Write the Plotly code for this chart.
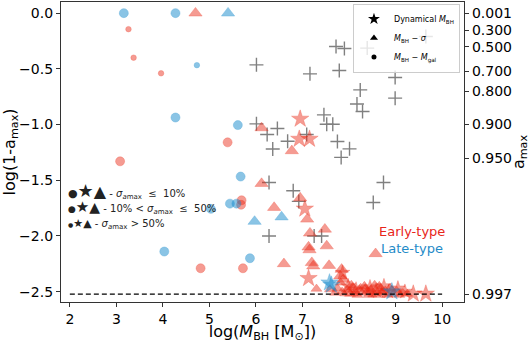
import numpy as np
import plotly.graph_objects as go

# ---------------- data ----------------
# size class: 0 = sigma<=10% (large), 1 = 10-50% (medium), 2 = >50% (small)
circ_early_x = [3.26, 3.37, 3.96, 5.39, 3.08, 5.69, 5.68, 4.81, 5.72]
circ_early_y = [-0.144, -0.40, -0.54, -1.16, -1.33, -1.68, -1.72, -2.29, -2.29]
circ_early_s = [2, 2, 2, 0, 0, 0, 0, 0, 0]

circ_late_x = [3.16, 4.27, 4.73, 4.27, 5.61, 5.67, 5.03, 5.44, 5.58, 4.03, 5.87]
circ_late_y = [0.0, 0.0, -0.467, -0.937, -1.005, -1.467, -1.757, -1.71, -1.71, -2.14, -2.20]
circ_late_s = [0, 0, 2, 0, 0, 0, 0, 0, 0, 0, 0]

tri_early_x = [4.70, 6.12, 6.77, 6.12, 6.95, 6.39, 7.10, 7.48, 7.16, 7.52, 7.13, 7.15,
               6.60, 7.20, 7.23, 7.57, 8.57, 7.84, 7.81, 7.88, 7.30, 7.59,
               7.75, 7.85, 7.95, 8.02, 8.08, 8.12, 8.18, 8.22, 8.28, 8.33, 8.38, 8.42,
               8.47, 8.52, 8.55, 8.60, 8.63, 8.68, 8.72, 8.78, 8.82, 8.88, 8.95, 9.02,
               9.08, 9.15, 9.25, 8.05, 8.35, 8.65, 7.90, 8.00, 8.25, 8.50, 8.70, 8.92,
               7.70, 7.82, 8.10, 8.40]
tri_early_y = [0.0, -1.03, -1.236, -1.53, -1.66, -1.745, -1.85, -1.94, -1.975, -2.09, -2.10, -2.125,
               -2.25, -2.24, -2.27, -2.266, -2.16, -2.30, -2.36, -2.39, -2.475, -2.48,
               -2.47, -2.50, -2.48, -2.52, -2.46, -2.50, -2.53, -2.48, -2.51, -2.45, -2.50, -2.53,
               -2.48, -2.51, -2.44, -2.50, -2.53, -2.47, -2.51, -2.49, -2.53, -2.47, -2.52, -2.49,
               -2.53, -2.51, -2.52, -2.44, -2.47, -2.45, -2.52, -2.49, -2.46, -2.53, -2.50, -2.48,
               -2.51, -2.42, -2.52, -2.49]
tri_early_s = [0, 0, 0, 0, 0, 0, 0, 0, 0, 0, 0, 0,
               0, 0, 0, 0, 0, 0, 0, 0, 1, 1,
               1, 1, 1, 1, 1, 1, 1, 1, 1, 1, 1, 1,
               1, 1, 1, 1, 1, 1, 1, 1, 1, 1, 1, 1,
               1, 1, 1, 1, 1, 1, 2, 2, 2, 2, 2, 2,
               1, 1, 2, 2]

tri_late_x = [5.40, 5.97, 6.55]
tri_late_y = [0.0, -1.87, -1.83]
tri_late_s = [0, 0, 0]

star_early_x = [6.95, 6.93, 7.15, 7.05, 7.13, 7.86, 9.38, 9.65,
                7.98, 8.15, 8.45, 8.58, 8.75, 8.85, 9.05, 9.20]
star_early_y = [-0.95, -1.13, -1.13, -1.757, -2.38, -2.33, -2.52, -2.52,
                -2.45, -2.48, -2.46, -2.49, -2.45, -2.50, -2.47, -2.50]
star_early_s = [0, 0, 0, 0, 0, 1, 0, 0,
                1, 1, 1, 1, 1, 1, 1, 1]

star_late_x = [7.58, 7.62, 8.92]
star_late_y = [-2.42, -2.44, -2.50]
star_late_s = [0, 0, 0]

plus_x = [6.01, 6.01, 6.24, 6.46, 6.68, 6.36, 7.09, 7.72, 7.90, 8.39, 9.65, 7.16, 7.79,
          8.99, 8.24, 8.99, 8.17, 8.29, 7.46, 7.52, 7.65, 7.75, 8.01, 7.83, 6.28, 6.80,
          6.92, 8.74, 8.52, 6.28, 7.25, 7.41]
plus_y = [-0.464, -0.994, -1.09, -1.035, -1.15, -1.22, -1.09, -0.30, -0.318, -0.314, -0.21,
          -0.545, -0.515, -0.578, -0.689, -0.763, -0.816, -0.883, -0.913, -0.997, -0.997,
          -1.152, -1.218, -1.295, -1.52, -1.595, -1.69, -1.52, -1.70, -2.0, -2.0, -2.0]

amax_ticks = [0.001, 0.300, 0.500, 0.700, 0.800, 0.900, 0.950, 0.997]
amax_labels = ["0.001", "0.300", "0.500", "0.700", "0.800", "0.900", "0.950", "0.997"]
x_ticks = [2, 3, 4, 5, 6, 7, 8, 9, 10]
y_ticks = [0.0, -0.5, -1.0, -1.5, -2.0, -2.5]
amax_limit = 0.997

RED = "rgba(235,40,20,0.66)"
BLUE = "rgba(25,140,205,0.72)"
GRAY = "rgb(128,128,128)"
SIZES = {"circle": [9, 7, 5.5], "triangle-up": [11.5, 9.5, 8], "star": [13, 11, 9]}

fig = go.Figure()
fig.add_trace(go.Scatter(x=plus_x, y=plus_y, mode="markers", showlegend=False,
                         marker=dict(symbol="cross-thin", size=10,
                                     line=dict(color=GRAY, width=1.4), color=GRAY)))

def add(xs, ys, ss, sym, col):
    fig.add_trace(go.Scatter(x=xs, y=ys, mode="markers", showlegend=False,
                             marker=dict(symbol=sym, size=[SIZES[sym][s] for s in ss],
                                         color=col, line=dict(color=col, width=0.6))))

add(circ_early_x, circ_early_y, circ_early_s, "circle", RED)
add(circ_late_x, circ_late_y, circ_late_s, "circle", BLUE)
add(tri_early_x, tri_early_y, tri_early_s, "triangle-up", RED)
add(tri_late_x, tri_late_y, tri_late_s, "triangle-up", BLUE)
add(star_early_x, star_early_y, star_early_s, "star", RED)
add(star_late_x, star_late_y, star_late_s, "star", BLUE)

# legend entries (marker type)
for name, sym, sz in [("Dynamical <i>M</i><sub>BH</sub>", "star", 9),
                      ("<i>M</i><sub>BH</sub> − <i>σ</i>", "triangle-up", 7),
                      ("<i>M</i><sub>BH</sub> − <i>M</i><sub>gal</sub>", "circle", 5)]:
    fig.add_trace(go.Scatter(x=[None], y=[None], mode="markers", name=name,
                             marker=dict(symbol=sym, size=sz, color="black")))

# invisible trace for the right axis
fig.add_trace(go.Scatter(x=[None], y=[None], yaxis="y2", showlegend=False, hoverinfo="skip"))

lvl = float(np.log10(1 - amax_limit))
fig.add_shape(type="line", x0=2, x1=10, y0=lvl, y1=lvl, xref="x", yref="y",
              line=dict(color="black", width=1.3, dash="5px,3px"))

FONT = "DejaVu Sans"
ann = []
# size key: one text per row
rows = [(-1.59, [11, 18, 16], "- <i>σ</i><sub><i>a</i>max</sub>  ≤  10%"),
        (-1.74, [9, 15, 14], "- 10% < <i>σ</i><sub><i>a</i>max</sub>  ≤  50%"),
        (-1.89, [6, 11, 11], "- <i>σ</i><sub><i>a</i>max</sub> > 50%")]
for yy, szs, t in rows:
    glyphs = "".join(f"<span style='font-size:{fs}px'>{ch}</span>"
                     for ch, fs in zip(["●", "★", "▲"], szs))
    ann.append(dict(x=1.92, y=yy, xref="x", yref="y",
                    text=glyphs + " <span style='font-size:10px'>" + t + "</span>",
                    showarrow=False, xanchor="left", yanchor="middle",
                    font=dict(family=FONT, size=10, color="#222")))
ann.append(dict(x=9.35, y=-1.96, xref="x", yref="y", text="Early-type", showarrow=False,
                font=dict(family=FONT, size=13, color="#e8251a")))
ann.append(dict(x=9.35, y=-2.11, xref="x", yref="y", text="Late-type", showarrow=False,
                font=dict(family=FONT, size=13, color="#1f8bc8")))

axis_common = dict(showline=True, linecolor="#333", linewidth=1.3, ticks="outside",
                   ticklen=4, tickwidth=1.2, tickcolor="#333", showgrid=False, zeroline=False,
                   automargin=False,
                   tickfont=dict(family=FONT, size=14, color="black"))

fig.update_layout(
    width=530, height=343,
    margin=dict(l=61, r=66, t=2, b=41),
    paper_bgcolor="white", plot_bgcolor="white",
    font=dict(family=FONT, color="black"),
    annotations=ann,
    hovermode=False,
    xaxis=dict(range=[1.81, 10.47], tickvals=x_ticks, mirror=True,
               title=dict(text="log(<i>M</i><sub>BH</sub> [M<sub>⊙</sub>])",
                          font=dict(family=FONT, size=16), standoff=6),
               **axis_common),
    yaxis=dict(range=[-2.593, 0.10], tickvals=y_ticks, tickformat=".1f", mirror=False,
               title=dict(text="log(1-a<sub>max</sub>)", font=dict(family=FONT, size=16), standoff=4),
               **axis_common),
    yaxis2=dict(range=[-2.593, 0.10], overlaying="y", side="right",
                tickvals=[float(np.log10(1 - a)) for a in amax_ticks], ticktext=amax_labels,
                title=dict(text="a<sub>max</sub>", font=dict(family=FONT, size=16), standoff=4),
                **axis_common),
    legend=dict(x=0.99, y=0.995, xanchor="right", yanchor="top",
                bgcolor="rgba(255,255,255,0.8)", bordercolor="#ccc", borderwidth=1,
                font=dict(family=FONT, size=8), itemsizing="trace", tracegroupgap=0,
                itemwidth=30),
)

fig.write_html("out.html", config={"displayModeBar": False},
               post_script="document.body.style.margin='0px';document.body.style.overflow='hidden';")
